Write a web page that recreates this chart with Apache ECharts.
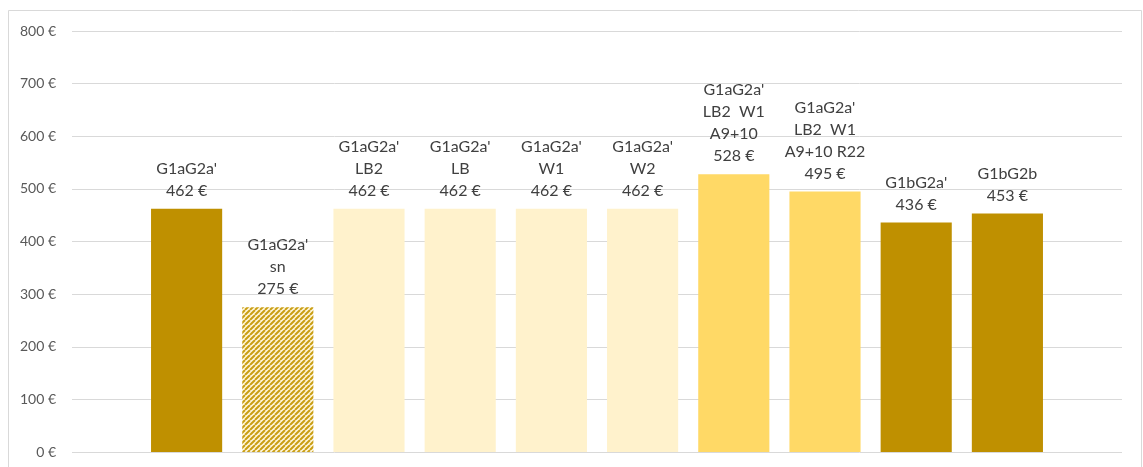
<!DOCTYPE html>
<html>
<head>
<meta charset="utf-8">
<script src="https://cdn.jsdelivr.net/npm/echarts@6/dist/echarts.min.js"></script>
<style>
html,body{margin:0;padding:0;background:#fff;}
#chart{width:1143px;height:467px;}
</style>
</head>
<body>
<div id="chart"></div>
<script>
// ---- data ----
const categories = [
  "G1aG2a'",
  "G1aG2a'\nsn",
  "G1aG2a'\nLB2",
  "G1aG2a'\nLB",
  "G1aG2a'\nW1",
  "G1aG2a'\nW2",
  "G1aG2a'\nLB2  W1\nA9+10",
  "G1aG2a'\nLB2  W1\nA9+10 R22",
  "G1bG2a'",
  "G1bG2b"
];
const values = [462, 275, 462, 462, 462, 462, 528, 495, 436, 453];
const yTicks = [0, 100, 200, 300, 400, 500, 600, 700, 800];

// ---- styles ----
function hatch() {
  const n = 5;
  const c = document.createElement('canvas');
  c.width = n; c.height = n;
  const g = c.getContext('2d');
  g.fillStyle = '#FFF6DA';
  g.fillRect(0, 0, n, n);
  g.strokeStyle = '#C99E14';
  g.lineWidth = 2;
  g.beginPath();
  for (let k = -2 * n; k <= 2 * n; k += n) {
    g.moveTo(k, n); g.lineTo(k + n, 0);
  }
  g.stroke();
  return c;
}
const barStyles = [
  '#BF9000',
  { image: hatch(), repeat: 'repeat' },
  '#FFF2CC', '#FFF2CC', '#FFF2CC', '#FFF2CC',
  '#FFD966', '#FFD966',
  '#BF9000', '#BF9000'
];

const chart = echarts.init(document.getElementById('chart'), null, { renderer: 'canvas' });
const font = 'Lato, "Open Sans", sans-serif';
chart.setOption({
  backgroundColor: '#fff',
  animation: false,
  graphic: [{
    type: 'rect',
    shape: { x: 8.5, y: 10.5, width: 1133, height: 480 },
    style: { fill: 'none', stroke: '#D9D9D9', lineWidth: 1 },
    silent: true
  }],
  grid: [
    { left: 72, right: 21, top: 31, bottom: 15 },
    { left: 141, width: 912, top: 31, bottom: 15 }
  ],
  xAxis: [
    { gridIndex: 0, type: 'value', show: false, min: 0, max: 1 },
    { gridIndex: 1, type: 'category', data: categories,
      axisLine: { show: false }, axisTick: { show: false }, axisLabel: { show: false } }
  ],
  yAxis: [
    { gridIndex: 0, type: 'value', min: yTicks[0], max: yTicks[yTicks.length - 1], interval: 100,
      axisLine: { show: false }, axisTick: { show: false },
      splitLine: { lineStyle: { color: '#D9D9D9', width: 1 } },
      axisLabel: { formatter: '{value} €', color: '#595959', fontSize: 14, fontFamily: font, margin: 16 } },
    { gridIndex: 1, type: 'value', min: yTicks[0], max: yTicks[yTicks.length - 1], show: false,
      splitLine: { show: false } }
  ],
  series: [{
    type: 'bar',
    xAxisIndex: 1,
    yAxisIndex: 1,
    barCategoryGap: '22%',
    data: values.map((v, i) => ({ value: v, itemStyle: { color: barStyles[i] } })),
    label: {
      show: true,
      position: 'top',
      distance: 7,
      color: '#404040',
      fontSize: 16,
      lineHeight: 22,
      fontFamily: font,
      align: 'center',
      formatter: p => p.name + '\n' + p.value + ' €'
    }
  }]
});
</script>
</body>
</html>
